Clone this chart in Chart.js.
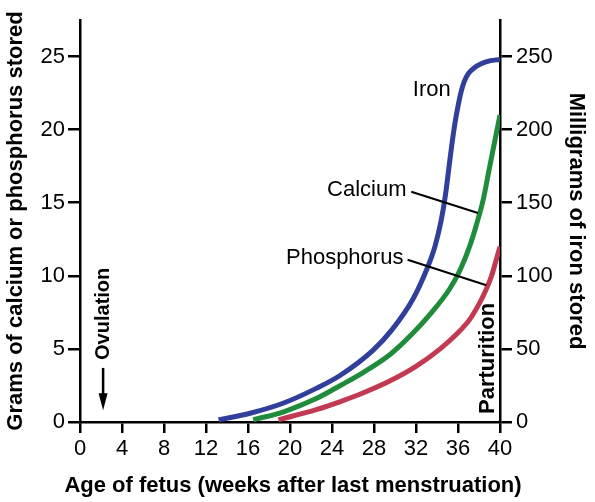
<!DOCTYPE html>
<html>
<head>
<meta charset="utf-8">
<script src="https://cdn.jsdelivr.net/npm/chart.js@4.4.1/dist/chart.umd.min.js"></script>
<style>
  html, body { margin: 0; padding: 0; background: #fff; }
  #wrap { width: 595px; height: 502px; }
</style>
</head>
<body>
<div id="wrap"><canvas id="c" width="595" height="502"></canvas></div>
<script>
// ---- data ----
const ironWeeks   = [13.2, 16.2, 19.4, 22.5, 24.8, 27.9, 29.7, 31.7, 33.0, 33.8, 34.4, 34.8, 35.1, 35.4, 35.7, 36.0, 36.3, 36.6, 37.0, 37.5, 38.2, 39.0, 40.0];
const ironMg      = [1.5, 6, 13, 23, 32, 49, 63, 84, 104, 120, 138, 155, 172, 189, 204, 216, 226, 233, 238.5, 242, 245, 247, 248];

const calciumWeeks = [16.5, 19.4, 22.5, 24.8, 27.0, 29.5, 31.6, 33.5, 35.2, 36.2, 37.1, 37.8, 38.4, 39.0, 39.5, 40.0];
const calciumG     = [0.15, 0.7, 1.6, 2.5, 3.4, 4.6, 6.0, 7.5, 9.1, 10.4, 12.0, 13.6, 15.2, 17.4, 19.2, 21.0];

const phosWeeks = [18.9, 22.5, 24.8, 27.0, 29.5, 32.0, 34.3, 36.0, 37.1, 38.1, 38.7, 39.2, 39.6, 40.0];
const phosG     = [0.15, 0.85, 1.4, 2.0, 2.8, 3.8, 5.0, 6.1, 7.0, 8.2, 9.1, 10.0, 11.0, 12.0];

const xTicks  = [0, 4, 8, 12, 16, 20, 24, 28, 32, 36, 40];
const yTicks  = [0, 5, 10, 15, 20, 25];
const y2Ticks = [0, 50, 100, 150, 200, 250];

const seriesNames = ['Iron', 'Calcium', 'Phosphorus'];
const xTitle = 'Age of fetus (weeks after last menstruation)';

// ---- styling ----
const FONT = '"Liberation Sans", Arial, Helvetica, sans-serif';
const COL_IRON = '#2f3f9b';
const COL_CA   = '#1f8c3c';
const COL_P    = '#c23a52';
const AXIS_W = 2.5;

const toXY = (xs, ys) => xs.map((x, i) => ({ x: x, y: ys[i] }));

// annotation positions (data coords: weeks, grams)
const labelNotes = [
  { text: seriesNames[0], x: 31.7, y: 22.7, align: 'left' },
  { text: seriesNames[1], x: 31.1, y: 15.9, align: 'right' },
  { text: seriesNames[2], x: 30.8, y: 11.2, align: 'right' }
];
const leaders = [
  [[31.55, 15.75], [37.9, 14.3]],
  [[31.2, 11.1], [38.7, 9.35]]
];

const notesPlugin = {
  id: 'notes',
  afterDatasetsDraw(chart) {
    const ctx = chart.ctx;
    const xs = chart.scales.x, ys = chart.scales.y;
    const px = v => xs.getPixelForValue(v);
    const py = v => ys.getPixelForValue(v);
    ctx.save();
    // leader lines
    ctx.strokeStyle = '#000';
    ctx.lineWidth = 2;
    leaders.forEach(l => {
      ctx.beginPath();
      ctx.moveTo(px(l[0][0]), py(l[0][1]));
      ctx.lineTo(px(l[1][0]), py(l[1][1]));
      ctx.stroke();
    });
    // series labels
    ctx.fillStyle = '#000';
    ctx.font = '22px ' + FONT;
    ctx.textBaseline = 'middle';
    labelNotes.forEach(n => {
      ctx.textAlign = n.align;
      ctx.fillText(n.text, px(n.x), py(n.y));
    });
    // Ovulation (rotated) + arrow
    ctx.save();
    ctx.translate(px(2.2), py(7.4));
    ctx.rotate(-Math.PI / 2);
    ctx.font = 'bold 20px ' + FONT;
    ctx.textAlign = 'center';
    ctx.fillText('Ovulation', 0, 0);
    ctx.restore();
    const ax = px(2.2), ay0 = py(3.7), ay1 = py(0.8);
    ctx.beginPath();
    ctx.lineWidth = 2.5;
    ctx.moveTo(ax, ay0);
    ctx.lineTo(ax, ay1 - 10);
    ctx.stroke();
    ctx.beginPath();
    ctx.moveTo(ax - 4.5, ay1 - 17);
    ctx.lineTo(ax + 4.5, ay1 - 17);
    ctx.lineTo(ax, ay1);
    ctx.closePath();
    ctx.fill();
    // Parturition (rotated)
    ctx.save();
    ctx.translate(px(38.86), py(4.35));
    ctx.rotate(-Math.PI / 2);
    ctx.font = 'bold 22px ' + FONT;
    ctx.textAlign = 'center';
    ctx.fillText('Parturition', 0, 0);
    ctx.restore();
    // x-axis title (drawn here so it is not squeezed to the axis width)
    ctx.font = 'bold 22px ' + FONT;
    ctx.textAlign = 'center';
    ctx.fillText(xTitle, (xs.left + xs.right) / 2 + 3, 486);
    ctx.restore();
  }
};

const axisCommon = (ticksArr, tickLen, pad) => ({
  type: 'linear',
  afterBuildTicks: s => { s.ticks = ticksArr.map(v => ({ value: v })); },
  grid: { drawOnChartArea: false, drawTicks: true, tickLength: tickLen, color: '#000', lineWidth: AXIS_W },
  border: { display: true, color: '#000', width: AXIS_W },
  ticks: { color: '#000', font: { family: FONT, size: 22 }, padding: pad }
});

new Chart(document.getElementById('c'), {
  type: 'line',
  data: {
    datasets: [
      { label: seriesNames[0], data: toXY(ironWeeks, ironMg), yAxisID: 'y2', borderColor: COL_IRON },
      { label: seriesNames[1], data: toXY(calciumWeeks, calciumG), yAxisID: 'y', borderColor: COL_CA },
      { label: seriesNames[2], data: toXY(phosWeeks, phosG), yAxisID: 'y', borderColor: COL_P }
    ]
  },
  options: {
    responsive: false,
    animation: false,
    devicePixelRatio: 1,
    layout: { padding: { top: 20, left: 0, right: 0, bottom: 0 } },
    elements: {
      point: { radius: 0 },
      line: { borderWidth: 5, cubicInterpolationMode: 'monotone', fill: false }
    },
    plugins: { legend: { display: false }, tooltip: { enabled: false } },
    scales: {
      x: Object.assign(axisCommon(xTicks, 11, 3), {
        position: 'bottom', min: 0, max: 40,
        afterFit: s => { s.height = 80; },
        title: { display: false }
      }),
      y: Object.assign(axisCommon(yTicks, 12, 3), {
        position: 'left', min: 0, max: 27.5,
        afterFit: s => { s.width = 80; },
        title: { display: true, text: 'Grams of calcium or phosphorus stored', color: '#000',
                 font: { family: FONT, size: 22, weight: 'bold' }, padding: { top: 3, bottom: 0 } }
      }),
      y2: Object.assign(axisCommon(y2Ticks, 12, 4), {
        position: 'right', min: 0, max: 275,
        afterFit: s => { s.width = 95; },
        title: { display: true, text: 'Milligrams of iron stored', color: '#000',
                 font: { family: FONT, size: 22, weight: 'bold' }, padding: { top: 6, bottom: 0 } }
      })
    }
  },
  plugins: [notesPlugin]
});
</script>
</body>
</html>
